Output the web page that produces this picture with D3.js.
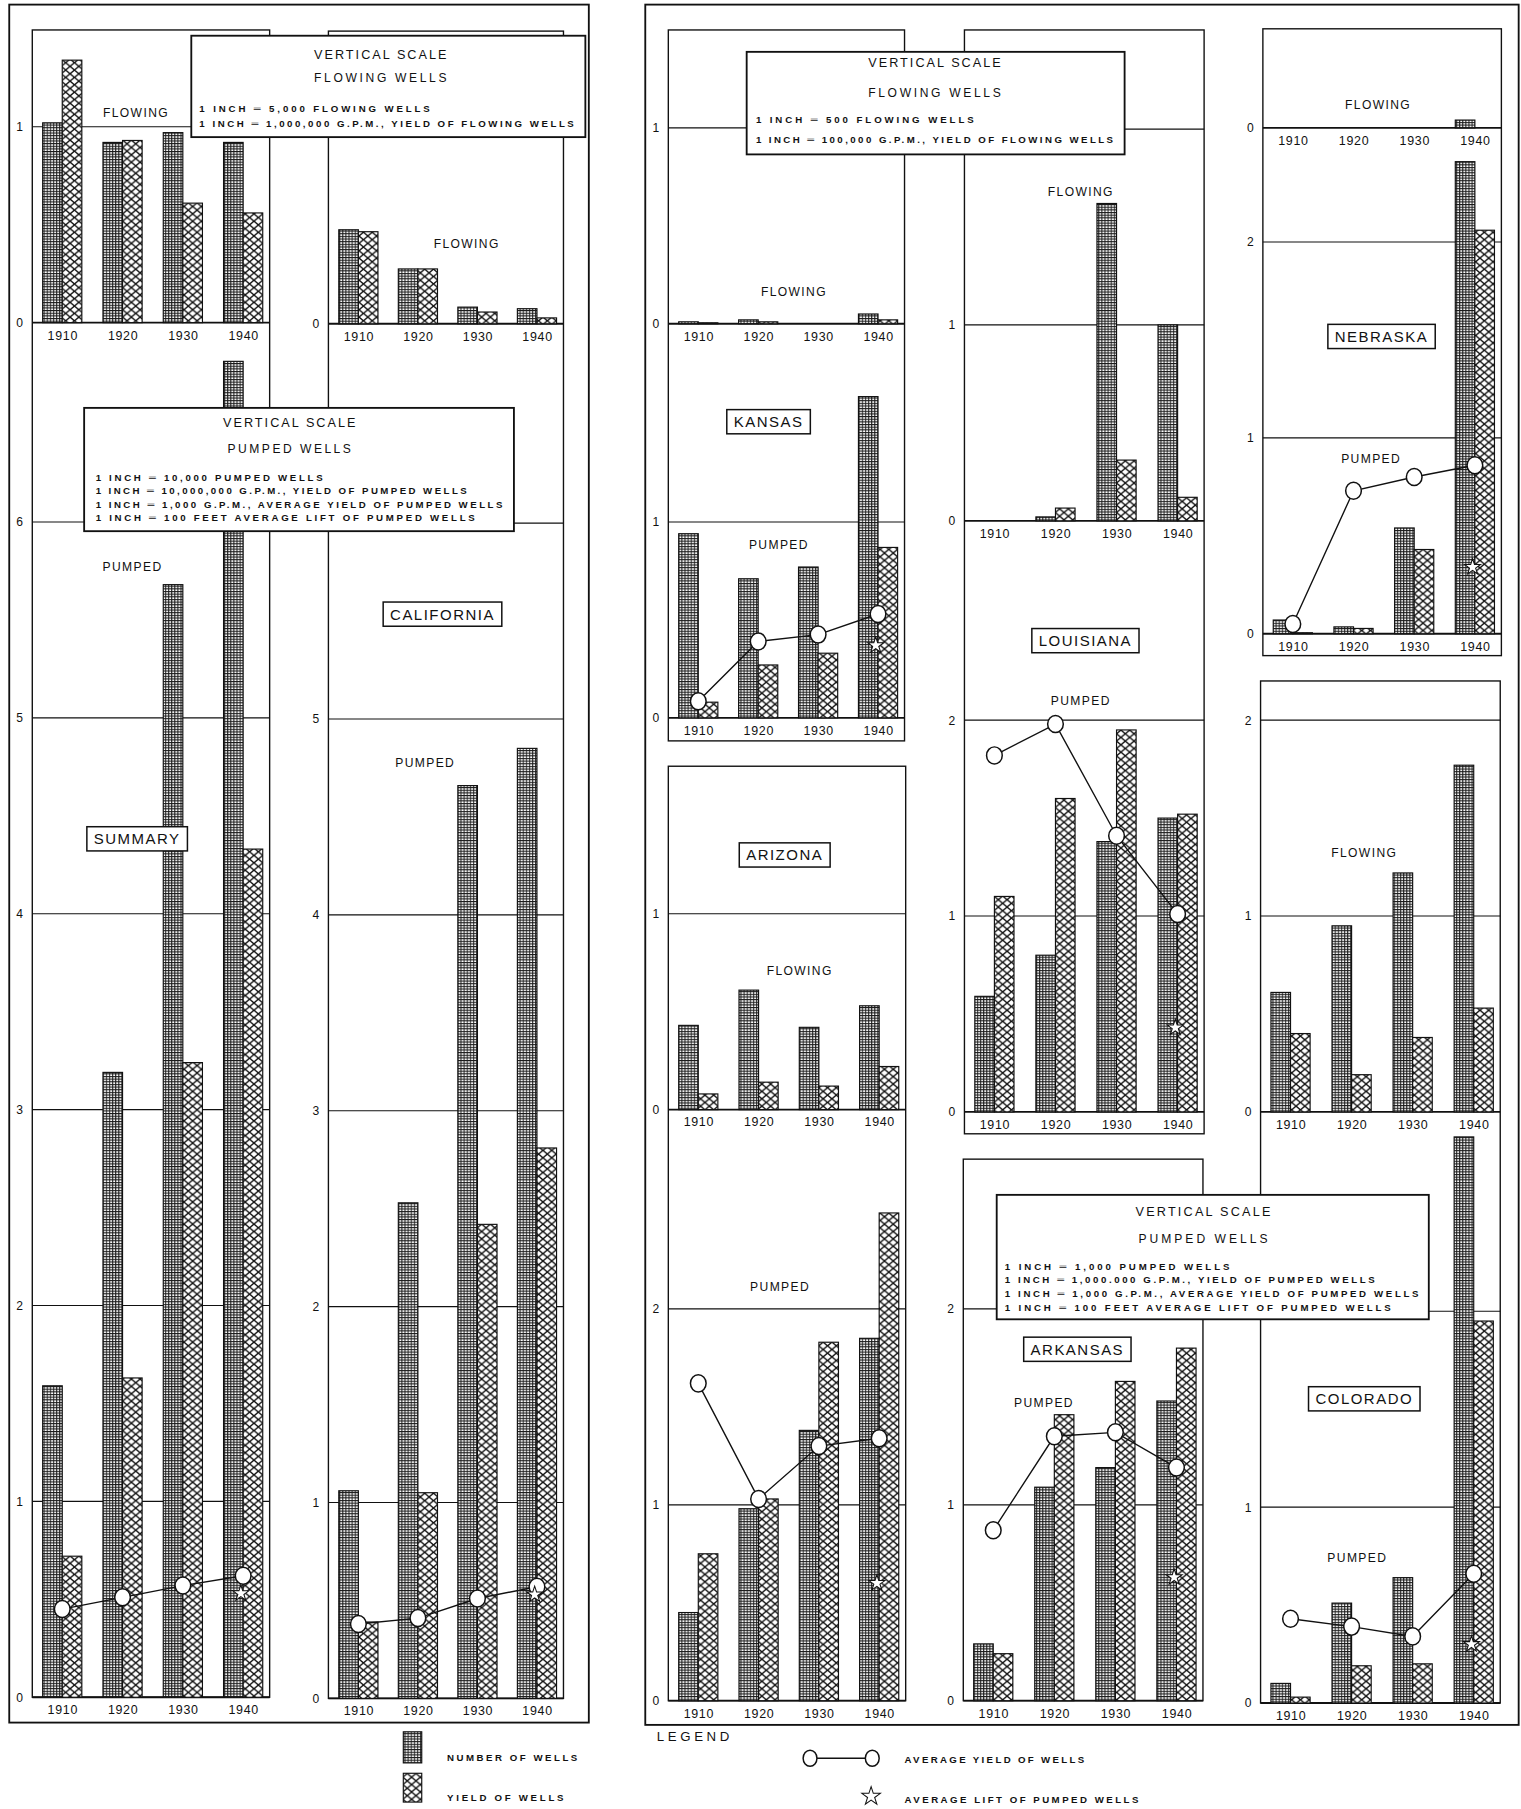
<!DOCTYPE html>
<html><head><meta charset="utf-8">
<script src="https://cdn.jsdelivr.net/npm/d3@7"></script>
<style>
html,body{margin:0;padding:0;background:#fff;}
svg{display:block;}
text{font-family:"Liberation Sans","DejaVu Sans",Arial,sans-serif;fill:#111;}
</style></head><body>
<svg id="chart" width="1521" height="1809" viewBox="0 0 1320 1570"></svg>
<script>
// ---------------- DATA (values in inches of each panel's vertical scale) ----------------
const years = ["1910","1920","1930","1940"];

const summaryFlowingNumber = [1.02, 0.92, 0.97, 0.92];
const summaryFlowingYield  = [1.34, 0.93, 0.61, 0.56];
const summaryPumpedNumber  = [1.59, 3.19, 5.68, 6.82];
const summaryPumpedYield   = [0.72, 1.63, 3.24, 4.33];
const summaryAvgYield      = [0.45, 0.51, 0.57, 0.62];
const summaryAvgLift       = [null, null, null, 0.53];

const californiaFlowingNumber = [0.48, 0.28, 0.085, 0.077];
const californiaFlowingYield  = [0.47, 0.28, 0.06, 0.03];
const californiaPumpedNumber  = [1.06, 2.53, 4.66, 4.85];
const californiaPumpedYield   = [0.39, 1.05, 2.42, 2.81];
const californiaAvgYield      = [0.38, 0.41, 0.51, 0.57];
const californiaAvgLift       = [null, null, null, 0.53];

const kansasFlowingNumber = [0.01, 0.02, 0, 0.05];
const kansasFlowingYield  = [0.005, 0.01, 0, 0.02];
const kansasPumpedNumber  = [0.94, 0.71, 0.77, 1.64];
const kansasPumpedYield   = [0.08, 0.27, 0.33, 0.87];
const kansasAvgYield      = [0.085, 0.39, 0.425, 0.53];
const kansasAvgLift       = [null, null, null, 0.37];

const arizonaFlowingNumber = [0.43, 0.61, 0.42, 0.53];
const arizonaFlowingYield  = [0.08, 0.14, 0.12, 0.22];
const arizonaPumpedNumber  = [0.45, 0.98, 1.38, 1.85];
const arizonaPumpedYield   = [0.75, 1.03, 1.83, 2.49];
const arizonaAvgYield      = [1.62, 1.03, 1.30, 1.34];
const arizonaAvgLift       = [null, null, null, 0.60];

const louisianaFlowingNumber = [0, 0.02, 1.62, 1.00];
const louisianaFlowingYield  = [0, 0.065, 0.31, 0.12];
const louisianaPumpedNumber  = [0.59, 0.80, 1.38, 1.50];
const louisianaPumpedYield   = [1.10, 1.60, 1.95, 1.52];
const louisianaAvgYield      = [1.82, 1.98, 1.41, 1.01];
const louisianaAvgLift       = [null, null, null, 0.43];

const arkansasPumpedNumber = [0.29, 1.09, 1.19, 1.53];
const arkansasPumpedYield  = [0.24, 1.46, 1.63, 1.80];
const arkansasAvgYield     = [0.87, 1.35, 1.37, 1.19];
const arkansasAvgLift      = [null, null, null, 0.63];

const nebraskaFlowingNumber = [0, 0, 0, 0.04];
const nebraskaFlowingYield  = [0, 0, 0, 0];
const nebraskaPumpedNumber  = [0.07, 0.035, 0.54, 2.41];
const nebraskaPumpedYield   = [0.005, 0.027, 0.43, 2.06];
const nebraskaAvgYield      = [0.05, 0.73, 0.80, 0.86];
const nebraskaAvgLift       = [null, null, null, 0.34];

const coloradoFlowingNumber = [0.61, 0.95, 1.22, 1.77];
const coloradoFlowingYield  = [0.40, 0.19, 0.38, 0.53];
const coloradoPumpedNumber  = [0.10, 0.51, 0.64, 2.89];
const coloradoPumpedYield   = [0.03, 0.19, 0.20, 1.95];
const coloradoAvgYield      = [0.43, 0.39, 0.34, 0.66];
const coloradoAvgLift       = [null, null, null, 0.30];

const leftFlowingScale = ["VERTICAL SCALE","FLOWING WELLS",
  "1 INCH \u2550 5,000  FLOWING WELLS",
  "1 INCH \u2550 1,000,000  G.P.M.,  YIELD OF FLOWING WELLS"];
const leftPumpedScale = ["VERTICAL SCALE","PUMPED WELLS",
  "1 INCH \u2550 10,000  PUMPED WELLS",
  "1 INCH \u2550 10,000,000 G.P.M.,  YIELD OF PUMPED WELLS",
  "1 INCH \u2550 1,000 G.P.M.,  AVERAGE YIELD OF PUMPED WELLS",
  "1 INCH \u2550 100 FEET  AVERAGE LIFT OF PUMPED WELLS"];
const rightFlowingScale = ["VERTICAL SCALE","FLOWING WELLS",
  "1 INCH \u2550 500 FLOWING WELLS",
  "1 INCH \u2550 100,000 G.P.M., YIELD OF FLOWING WELLS"];
const rightPumpedScale = ["VERTICAL SCALE","PUMPED WELLS",
  "1 INCH \u2550 1,000  PUMPED WELLS",
  "1 INCH \u2550 1,000.000  G.P.M., YIELD OF PUMPED WELLS",
  "1 INCH \u2550 1,000  G.P.M., AVERAGE YIELD OF  PUMPED WELLS",
  "1 INCH \u2550 100  FEET  AVERAGE LIFT OF PUMPED WELLS"];
const legendLabels = ["NUMBER OF WELLS","YIELD OF WELLS","AVERAGE YIELD OF WELLS","AVERAGE LIFT OF PUMPED WELLS"];

// ---------------- LAYOUT ----------------
const UNIT = 170; // pixels per inch of vertical scale
// ticks: grid lines; labels: tick numbers that are not covered by a scale box
const panels = [
 {state:"SUMMARY", x0:28, x1:234, top:26, bottom:null, tag:[119,728], sections:[
   {type:"FLOWING", zero:280, ticks:[0,1], labels:[0,1], title:[118,98], num:summaryFlowingNumber, yld:summaryFlowingYield},
   {type:"PUMPED", zero:1473, ticks:[0,1,2,3,4,5,6], labels:[0,1,2,3,4,5,6], title:[115,492], num:summaryPumpedNumber, yld:summaryPumpedYield, avg:summaryAvgYield, lift:summaryAvgLift}]},
 {state:"CALIFORNIA", x0:285, x1:489, top:27, bottom:null, tag:[384,533], sections:[
   {type:"FLOWING", zero:281, ticks:[0,1], labels:[0], title:[405,212], num:californiaFlowingNumber, yld:californiaFlowingYield},
   {type:"PUMPED", zero:1474, ticks:[0,1,2,3,4,5,6], labels:[0,1,2,3,4,5], title:[369,662], num:californiaPumpedNumber, yld:californiaPumpedYield, avg:californiaAvgYield, lift:californiaAvgLift}]},
 {state:"KANSAS", x0:580, x1:785, top:26, bottom:643, tag:[667,366], sections:[
   {type:"FLOWING", zero:281, ticks:[0,1], labels:[0,1], title:[689,253], num:kansasFlowingNumber, yld:kansasFlowingYield},
   {type:"PUMPED", zero:623, ticks:[0,1], labels:[0,1], title:[676,473], num:kansasPumpedNumber, yld:kansasPumpedYield, avg:kansasAvgYield, lift:kansasAvgLift}]},
 {state:"ARIZONA", x0:580, x1:786, top:665, bottom:null, tag:[681,742], sections:[
   {type:"FLOWING", zero:963, ticks:[0,1], labels:[0,1], title:[694,843], num:arizonaFlowingNumber, yld:arizonaFlowingYield},
   {type:"PUMPED", zero:1476, ticks:[0,1,2], labels:[0,1,2], title:[677,1117], num:arizonaPumpedNumber, yld:arizonaPumpedYield, avg:arizonaAvgYield, lift:arizonaAvgLift}]},
 {state:"LOUISIANA", x0:837, x1:1045, top:26, bottom:984, tag:[942,556], sections:[
   {type:"FLOWING", zero:452, ticks:[0,1,2], labels:[0,1], title:[938,167], num:louisianaFlowingNumber, yld:louisianaFlowingYield},
   {type:"PUMPED", zero:965, ticks:[0,1,2], labels:[0,1,2], title:[938,608], num:louisianaPumpedNumber, yld:louisianaPumpedYield, avg:louisianaAvgYield, lift:louisianaAvgLift}]},
 {state:"ARKANSAS", x0:836, x1:1044, top:1006, bottom:null, tag:[935,1171], sections:[
   {type:"PUMPED", zero:1476, ticks:[0,1,2], labels:[0,1,2], title:[906,1218], num:arkansasPumpedNumber, yld:arkansasPumpedYield, avg:arkansasAvgYield, lift:arkansasAvgLift}]},
 {state:"NEBRASKA", x0:1096, x1:1303, top:25, bottom:569, tag:[1199,292], sections:[
   {type:"FLOWING", zero:111, ticks:[0], labels:[0], title:[1196,91], num:nebraskaFlowingNumber, yld:nebraskaFlowingYield},
   {type:"PUMPED", zero:550, ticks:[0,1,2], labels:[0,1,2], title:[1190,398], num:nebraskaPumpedNumber, yld:nebraskaPumpedYield, avg:nebraskaAvgYield, lift:nebraskaAvgLift}]},
 {state:"COLORADO", x0:1094, x1:1302, top:591, bottom:null, tag:[1184,1214], sections:[
   {type:"FLOWING", zero:965, ticks:[0,1,2], labels:[0,1,2], title:[1184,740], num:coloradoFlowingNumber, yld:coloradoFlowingYield},
   {type:"PUMPED", zero:1478, ticks:[0,1,2], labels:[0,1], title:[1178,1352], num:coloradoPumpedNumber, yld:coloradoPumpedYield, avg:coloradoAvgYield, lift:coloradoAvgLift}]}
];

const scaleBoxes = [
 {lines:leftFlowingScale, x:166, y:31, w:342, h:88, cx:330, ys:[48,68,94,107], left:173, lens:[115,115,200,325], sizes:[11,10.5,8.4,8.4]},
 {lines:leftPumpedScale, x:73, y:354, w:373, h:107, cx:251, ys:[367,390,414,425.5,437.5,449], left:83, lens:[115,107,197,322,353,329], sizes:[11,10.5,8.4,8.4,8.4,8.4]},
 {lines:rightFlowingScale, x:648, y:45, w:328, h:89, cx:811, ys:[55,81,103.5,121], left:656, lens:[115,115,189,310], sizes:[11,10.5,8.4,8.4]},
 {lines:rightPumpedScale, x:865, y:1037, w:375, h:108, cx:1044, ys:[1052,1075,1099.5,1110.5,1122.5,1134.5], left:872, lens:[117,112,195,321,359,335], sizes:[11,10.5,8.4,8.4,8.4,8.4]}
];

// ---------------- DRAW ----------------
const svg = d3.select("#chart");
svg.append("rect").attr("width",1320).attr("height",1570).attr("fill","#fff");
const defs = svg.append("defs");
const pn = defs.append("pattern").attr("id","numPat").attr("patternUnits","userSpaceOnUse")
  .attr("width",2.7).attr("height",2.3);
pn.append("rect").attr("width",2.7).attr("height",2.3).attr("fill","#fff");
pn.append("path").attr("d","M0,0.5H2.7M0.5,0V2.3").attr("stroke","#1a1a1a").attr("stroke-width",0.85);
const py = defs.append("pattern").attr("id","yldPat").attr("patternUnits","userSpaceOnUse")
  .attr("width",7.6).attr("height",6.4);
py.append("rect").attr("width",7.6).attr("height",6.4).attr("fill","#fff");
py.append("path").attr("d","M-0.76,-0.64L8.36,7.04M-0.76,7.04L8.36,-0.64").attr("stroke","#111").attr("stroke-width",1.15);

// frames
svg.append("rect").attr("x",8).attr("y",4).attr("width",503).attr("height",1491)
  .attr("fill","none").attr("stroke","#111").attr("stroke-width",1.6);
svg.append("rect").attr("x",560).attr("y",4).attr("width",758).attr("height",1493)
  .attr("fill","none").attr("stroke","#111").attr("stroke-width",1.6);

const lineGen = d3.line().x(d=>d[0]).y(d=>d[1]);
const star = d3.symbol().type(d3.symbolStar).size(60);
const BW = 17;

panels.forEach(p=>{
  const g = svg.append("g");
  const last = p.sections[p.sections.length-1];
  const bottom = p.bottom != null ? p.bottom : last.zero;
  g.append("rect").attr("x",p.x0).attr("y",p.top).attr("width",p.x1-p.x0).attr("height",bottom-p.top)
    .attr("fill","none").attr("stroke","#111").attr("stroke-width",1.2);
  const x = d3.scalePoint().domain(years).range([p.x0+26, p.x1-23]);
  p.sections.forEach(s=>{
    const y = d3.scaleLinear().domain([0,1]).range([s.zero, s.zero-UNIT]);
    g.selectAll(null).data(s.ticks).join("line")
      .attr("x1",p.x0).attr("x2",p.x1).attr("y1",d=>y(d)).attr("y2",d=>y(d))
      .attr("stroke","#111").attr("stroke-width",d=>d===0?1.6:1);
    const ya = g.append("g").attr("transform",`translate(${p.x0},0)`)
      .call(d3.axisLeft(y).tickValues(s.labels).tickSize(0).tickPadding(8).tickFormat(d3.format("d")));
    ya.select(".domain").remove();
    ya.selectAll("text").attr("font-size",10.5).attr("font-family","Liberation Sans, DejaVu Sans, sans-serif").attr("fill","#111");
    const xa = g.append("g").attr("transform",`translate(0,${s.zero})`)
      .call(d3.axisBottom(x).tickSize(0).tickPadding(7));
    xa.select(".domain").remove();
    xa.selectAll("text").attr("font-size",10.8).attr("letter-spacing",0.6)
      .attr("font-family","Liberation Sans, DejaVu Sans, sans-serif").attr("fill","#111");
    const rows = years.map((yr,i)=>({yr, num:s.num[i], yld:s.yld[i]}));
    g.selectAll(null).data(rows.filter(r=>r.num>0)).join("rect")
      .attr("x",d=>x(d.yr)-BW).attr("width",BW)
      .attr("y",d=>y(d.num)).attr("height",d=>y(0)-y(d.num))
      .attr("fill","url(#numPat)").attr("stroke","#111").attr("stroke-width",1);
    g.selectAll(null).data(rows.filter(r=>r.yld>0)).join("rect")
      .attr("x",d=>x(d.yr)).attr("width",BW)
      .attr("y",d=>y(d.yld)).attr("height",d=>y(0)-y(d.yld))
      .attr("fill","url(#yldPat)").attr("stroke","#111").attr("stroke-width",1);
    if (s.avg){
      const pts = years.map((yr,i)=>[x(yr), y(s.avg[i])]);
      g.append("path").attr("d",lineGen(pts)).attr("fill","none").attr("stroke","#111").attr("stroke-width",1.2);
      g.selectAll(null).data(pts).join("ellipse")
        .attr("cx",d=>d[0]).attr("cy",d=>d[1]).attr("rx",6.8).attr("ry",7.4)
        .attr("fill","#fff").attr("stroke","#111").attr("stroke-width",1.3);
    }
    if (s.lift){
      const lp = years.map((yr,i)=>({yr, v:s.lift[i]})).filter(d=>d.v!=null);
      g.selectAll(null).data(lp).join("path")
        .attr("d",star).attr("transform",d=>`translate(${x(d.yr)-2},${y(d.v)})`)
        .attr("fill","#fff").attr("stroke","#111").attr("stroke-width",0.9);
    }
    g.append("text").attr("x",s.title[0]).attr("y",s.title[1]).attr("text-anchor","middle")
      .attr("dominant-baseline","central").attr("font-size",10.5).attr("letter-spacing",1.2).text(s.type);
  });
});

// vertical scale boxes
scaleBoxes.forEach(b=>{
  const g = svg.append("g");
  g.append("rect").attr("x",b.x).attr("y",b.y).attr("width",b.w).attr("height",b.h)
    .attr("fill","#fff").attr("stroke","#111").attr("stroke-width",1.6);
  b.lines.forEach((t,i)=>{
    const tx = g.append("text").attr("y",b.ys[i]).attr("dominant-baseline","central")
      .attr("font-size",b.sizes[i]).attr("textLength",b.lens[i]).attr("lengthAdjust","spacing").text(t);
    if (i<2) tx.attr("x",b.cx).attr("text-anchor","middle");
    else tx.attr("x",b.left).attr("font-weight","bold");
  });
});

// state tags
panels.forEach(p=>{
  const g = svg.append("g");
  const t = g.append("text").attr("x",p.tag[0]).attr("y",p.tag[1]).attr("text-anchor","middle")
    .attr("dominant-baseline","central").attr("font-size",13).attr("letter-spacing",1.3).text(p.state);
  const bb = t.node().getBBox();
  g.insert("rect","text").attr("x",bb.x-6).attr("y",p.tag[1]-10.5).attr("width",bb.width+12).attr("height",21)
    .attr("fill","#fff").attr("stroke","#111").attr("stroke-width",1.3);
});

// bottom legend
const lg = svg.append("g");
lg.append("rect").attr("x",350).attr("y",1503).attr("width",16).attr("height",27)
  .attr("fill","url(#numPat)").attr("stroke","#111").attr("stroke-width",1);
lg.append("rect").attr("x",350).attr("y",1539).attr("width",16).attr("height",25)
  .attr("fill","url(#yldPat)").attr("stroke","#111").attr("stroke-width",1);
lg.append("text").attr("x",388).attr("y",1525).attr("dominant-baseline","central").attr("font-size",8.4).attr("font-weight","bold")
  .attr("textLength",113).attr("lengthAdjust","spacing").text(legendLabels[0]);
lg.append("text").attr("x",388).attr("y",1560).attr("dominant-baseline","central").attr("font-size",8.4).attr("font-weight","bold")
  .attr("textLength",101).attr("lengthAdjust","spacing").text(legendLabels[1]);
lg.append("text").attr("x",570).attr("y",1507).attr("dominant-baseline","central").attr("font-size",11.5)
  .attr("textLength",63).attr("lengthAdjust","spacing").text("LEGEND");
lg.append("line").attr("x1",703).attr("x2",757).attr("y1",1526).attr("y2",1526).attr("stroke","#111").attr("stroke-width",1.3);
[703,757].forEach(cx=>lg.append("ellipse").attr("cx",cx).attr("cy",1526).attr("rx",6).attr("ry",7)
  .attr("fill","#fff").attr("stroke","#111").attr("stroke-width",1.3));
lg.append("text").attr("x",785).attr("y",1527).attr("dominant-baseline","central").attr("font-size",8.4).attr("font-weight","bold")
  .attr("textLength",156).attr("lengthAdjust","spacing").text(legendLabels[2]);
lg.append("path").attr("d",d3.symbol().type(d3.symbolStar).size(80)).attr("transform","translate(756,1559)")
  .attr("fill","#fff").attr("stroke","#111").attr("stroke-width",0.9);
lg.append("text").attr("x",785).attr("y",1562).attr("dominant-baseline","central").attr("font-size",8.4).attr("font-weight","bold")
  .attr("textLength",203).attr("lengthAdjust","spacing").text(legendLabels[3]);
</script>
</body></html>
